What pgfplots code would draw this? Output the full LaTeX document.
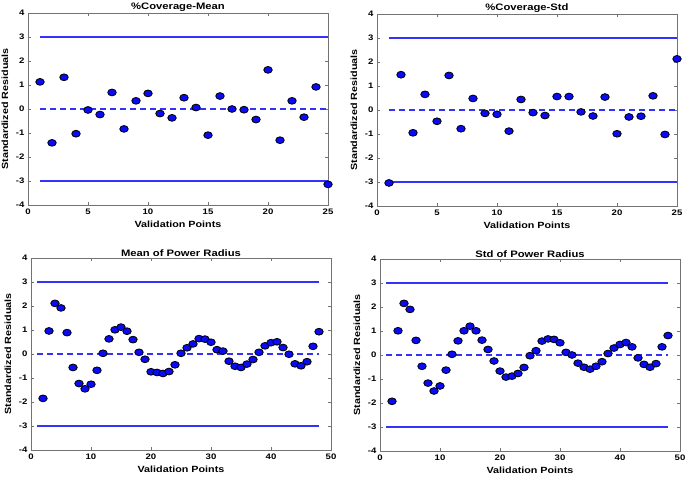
\documentclass[border=0pt]{standalone}
\usepackage{fontspec}
\setmainfont{Liberation Sans}[FakeStretch=1.2]
\usepackage{pgfplots}
\pgfplotsset{compat=1.18}
\definecolor{mkcol}{RGB}{10,10,245}
\definecolor{lncol}{RGB}{50,50,250}
\pgfplotsset{
  resid/.style={
    scale only axis, width=300bp, height=192bp, anchor=south west,
    ymin=-4, ymax=4, ytick={-4,-3,...,4},
    axis line style={black!55, line width=0.6bp},
    tick style={black!55, line width=0.6bp},
    major tick length=3bp,
    /pgf/number format/assume math mode=true,
    ticklabel style={font=\fontsize{8}{9}\selectfont\bfseries},
    label style={font=\fontsize{9}{11}\selectfont\bfseries},
    title style={font=\fontsize{9.4}{11}\selectfont\bfseries, inner sep=0.5bp, yshift=-5bp},
    xlabel={Validation Points}, ylabel={Standardized Residuals},
    xlabel style={yshift=0bp}, ylabel style={yshift=1bp},
    clip=false,
  },
  respts/.style={only marks, mark=*, mark size=3.4bp,
    mark options={xscale=1.25, fill=mkcol, draw=black, line width=0.8bp}},
  reslim/.style={draw=lncol, line width=2bp, solid, no marks},
  reszer/.style={draw=lncol, line width=2bp, dash pattern=on 6bp off 4bp, no marks},
}
\begin{document}
\begin{tikzpicture}
\useasboundingbox (0,0) rectangle (685bp,479bp);
% Panel 1
\begin{axis}[resid, at={(28bp,274bp)}, xmin=0, xmax=25, xtick={0,5,...,25}, title={\%Coverage-Mean}]
\addplot[reslim] coordinates {(1,3) (25,3)};
\addplot[reslim] coordinates {(1,-3) (25,-3)};
\addplot[reszer] coordinates {(1,0) (25,0)};
\addplot[respts] table {
x y
1 1.13
2 -1.41
3 1.32
4 -1.03
5 -0.04
6 -0.23
7 0.69
8 -0.83
9 0.34
10 0.65
11 -0.19
12 -0.37
13 0.47
14 0.06
15 -1.09
16 0.54
17 0.00
18 -0.03
19 -0.44
20 1.63
21 -1.30
22 0.34
23 -0.34
24 0.92
25 -3.14
};
\end{axis}
% Panel 2
\begin{axis}[resid, at={(377bp,273bp)}, xmin=0, xmax=25, xtick={0,5,...,25}, title={\%Coverage-Std}]
\addplot[reslim] coordinates {(1,3) (25,3)};
\addplot[reslim] coordinates {(1,-3) (25,-3)};
\addplot[reszer] coordinates {(1,0) (25,0)};
\addplot[respts] table {
x y
1 -3.04
2 1.47
3 -0.95
4 0.65
5 -0.47
6 1.44
7 -0.78
8 0.48
9 -0.14
10 -0.18
11 -0.88
12 0.44
13 -0.11
14 -0.23
15 0.56
16 0.56
17 -0.08
18 -0.25
19 0.54
20 -0.99
21 -0.29
22 -0.26
23 0.59
24 -1.02
25 2.13
};
\end{axis}
% Panel 3
\begin{axis}[resid, at={(31bp,29bp)}, xmin=0, xmax=50, xtick={0,10,...,50}, title={Mean of Power Radius}]
\addplot[reslim] coordinates {(1,3) (48,3)};
\addplot[reslim] coordinates {(1,-3) (48,-3)};
\addplot[reszer] coordinates {(1,0) (48,0)};
\addplot[respts] table {
x y
2 -1.85
3 0.96
4 2.11
5 1.92
6 0.89
7 -0.56
8 -1.23
9 -1.45
10 -1.26
11 -0.68
12 0.03
13 0.63
14 1.01
15 1.12
16 0.95
17 0.60
18 0.07
19 -0.22
20 -0.74
21 -0.77
22 -0.81
23 -0.73
24 -0.45
25 0.03
26 0.26
27 0.42
28 0.64
29 0.62
30 0.49
31 0.18
32 0.12
33 -0.30
34 -0.51
35 -0.56
36 -0.42
37 -0.23
38 0.07
39 0.34
40 0.47
41 0.51
42 0.27
43 -0.01
44 -0.41
45 -0.49
46 -0.32
47 0.32
48 0.93
};
\end{axis}
% Panel 4
\begin{axis}[resid, at={(380bp,28bp)}, xmin=0, xmax=50, xtick={0,10,...,50}, title={Std of Power Radius}]
\addplot[reslim] coordinates {(1,3) (48,3)};
\addplot[reslim] coordinates {(1,-3) (48,-3)};
\addplot[reszer] coordinates {(1,0) (48,0)};
\addplot[respts] table {
x y
2 -1.93
3 1.01
4 2.15
5 1.90
6 0.61
7 -0.47
8 -1.17
9 -1.50
10 -1.29
11 -0.63
12 0.03
13 0.59
14 1.01
15 1.20
16 1.01
17 0.62
18 0.23
19 -0.25
20 -0.67
21 -0.92
22 -0.88
23 -0.77
24 -0.52
25 -0.03
26 0.18
27 0.58
28 0.67
29 0.65
30 0.51
31 0.11
32 0.00
33 -0.34
34 -0.51
35 -0.59
36 -0.47
37 -0.28
38 0.06
39 0.29
40 0.44
41 0.52
42 0.34
43 -0.12
44 -0.39
45 -0.51
46 -0.36
47 0.34
48 0.81
};
\end{axis}
\end{tikzpicture}
\end{document}
